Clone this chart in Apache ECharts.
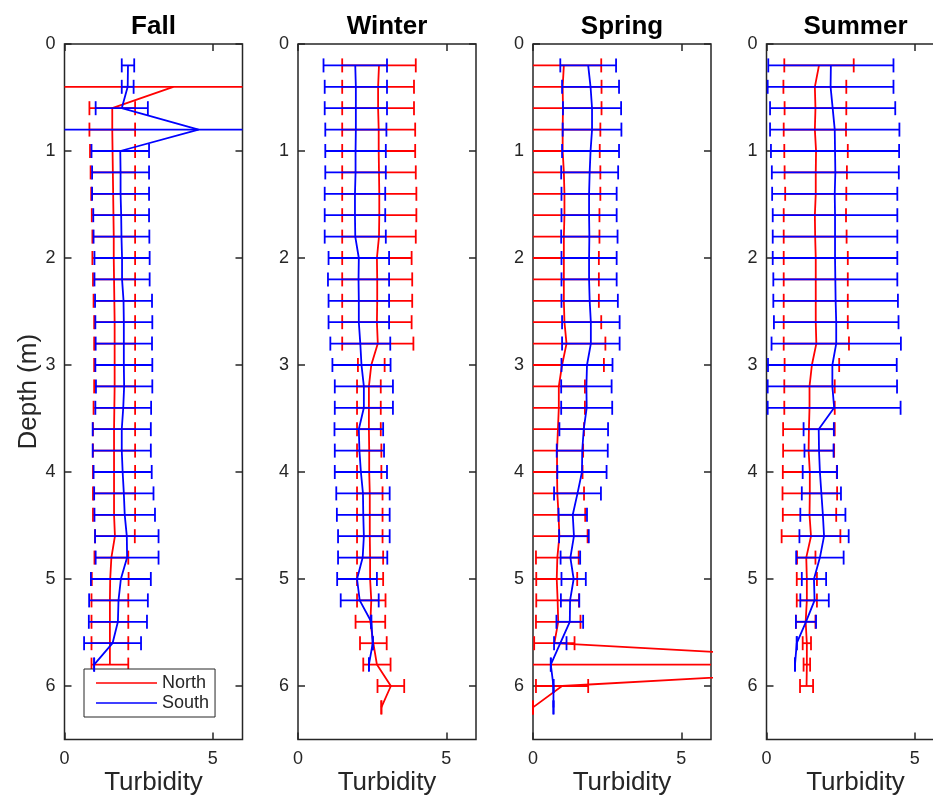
<!DOCTYPE html>
<html><head><meta charset="utf-8">
<script src="https://cdn.jsdelivr.net/npm/echarts@6/dist/echarts.min.js"></script>
<style>html,body{margin:0;padding:0;background:#fff}#c{width:933px;height:797px}</style>
</head><body><div id="c"></div>
<script>
// Depth levels (m)
var depths = [0.2,0.4,0.6,0.8,1.0,1.2,1.4,1.6,1.8,2.0,2.2,2.4,2.6,2.8,3.0,3.2,3.4,3.6,3.8,4.0,4.2,4.4,4.6,4.8,5.0,5.2,5.4,5.6,5.8,6.0,6.2];
var seasonNames = ['Fall','Winter','Spring','Summer'];
var xTickValues = [0,5];
var yTickValues = [0,1,2,3,4,5,6];

// Fall
var fallNorthMean = [null,3.67,1.61,1.61,1.62,1.63,1.64,1.65,1.66,1.66,1.67,1.68,1.69,1.69,1.69,1.69,1.68,1.67,1.67,1.67,1.67,1.67,1.70,1.58,1.54,1.53,1.53,1.53,1.53,null,null];
var fallNorthErr  = [null,9,0.77,0.77,0.76,0.75,0.74,0.73,0.72,0.72,0.71,0.70,0.69,0.69,0.69,0.69,0.70,0.71,0.71,0.71,0.71,0.71,0.67,0.57,0.62,0.62,0.62,0.62,0.62,null,null];
var fallSouthMean = [2.14,2.13,1.93,4.52,1.88,1.89,1.89,1.91,1.92,1.94,1.94,1.99,2.00,2.00,2.00,2.01,1.98,1.93,1.93,1.96,2.00,2.03,2.10,2.11,1.90,1.82,1.80,1.62,1.00,null,null];
var fallSouthErr  = [0.21,0.20,0.88,10,0.97,0.96,0.96,0.94,0.94,0.93,0.93,0.96,0.96,0.95,0.96,0.95,0.94,0.98,0.98,0.98,1.00,1.02,1.07,1.06,1.01,0.99,0.98,0.96,0,null,null];

// Winter
var winterNorthMean = [2.73,2.70,2.70,2.72,2.72,2.73,2.74,2.74,2.73,2.66,2.67,2.67,2.66,2.69,2.47,2.39,2.39,2.39,2.40,2.40,2.42,2.42,2.42,2.43,2.43,2.47,2.44,2.54,2.66,3.13,2.81];
var winterNorthErr  = [1.24,1.21,1.21,1.23,1.23,1.24,1.25,1.25,1.24,1.17,1.18,1.18,1.17,1.20,0.45,0.40,0.40,0.40,0.41,0.41,0.43,0.43,0.43,0.44,0.44,0.48,0.50,0.45,0.46,0.45,0];
var winterSouthMean = [1.93,1.95,1.95,1.95,1.94,1.94,1.92,1.92,1.93,2.05,2.04,2.05,2.05,2.10,2.14,2.22,2.22,2.05,2.07,2.12,2.19,2.20,2.22,2.18,1.99,2.08,2.47,2.52,2.39,null,null];
var winterSouthErr  = [1.07,1.05,1.05,1.03,1.02,1.02,1.02,1.02,1.03,1.02,1.03,1.02,1.02,1.01,0.98,0.98,0.98,0.82,0.83,0.88,0.90,0.89,0.87,0.83,0.67,0.64,0,0,0,null,null];

// Spring
var springNorthMean = [1.04,1.00,1.01,1.00,1.00,1.04,1.06,1.06,1.04,1.04,1.04,1.04,1.06,1.13,0.98,0.87,0.87,0.84,0.81,0.81,0.82,0.86,0.89,0.82,0.80,0.83,0.85,0.72,14,0.98,0];
var springNorthErr  = [1.26,1.31,1.30,1.27,1.25,1.23,1.21,1.18,1.20,1.18,1.18,1.18,1.24,1.31,1.41,0.88,0.88,0.88,0.88,0.86,0.90,0.90,0.95,0.72,0.69,0.72,0.75,0.68,16,0.88,0];
var springSouthMean = [1.86,1.94,1.99,1.99,1.94,1.91,1.89,1.89,1.90,1.89,1.89,1.91,1.95,1.95,1.82,1.80,1.81,1.71,1.66,1.65,1.50,1.34,1.38,1.26,1.37,1.25,1.24,0.92,0.60,0.69,0.69];
var springSouthErr  = [0.94,0.96,0.98,0.99,0.96,0.96,0.93,0.93,0.95,0.93,0.93,0.95,0.97,0.97,0.86,0.85,0.86,0.82,0.86,0.83,0.79,0.48,0.50,0.33,0.41,0.31,0.45,0.21,0,0,0];

// Summer
var summerNorthMean = [1.77,1.63,1.65,1.63,1.67,1.66,1.66,1.63,1.64,1.66,1.66,1.66,1.66,1.68,1.53,1.45,1.45,1.43,1.42,1.46,1.46,1.45,1.50,1.34,1.36,1.36,1.32,1.36,1.36,1.35,null];
var summerNorthErr  = [1.17,1.06,1.04,1.05,1.07,1.05,1.03,1.05,1.06,1.08,1.08,1.08,1.08,1.10,0.92,0.85,0.85,0.87,0.86,0.91,0.92,0.90,0.99,0.31,0.34,0.34,0.33,0.14,0.11,0.22,null];
var summerSouthMean = [2.17,2.16,2.23,2.30,2.31,2.32,2.30,2.31,2.31,2.31,2.32,2.33,2.35,2.35,2.22,2.22,2.28,1.76,1.77,1.80,1.85,1.90,1.94,1.80,1.60,1.62,1.33,1.02,0.96,null,null];
var summerSouthErr  = [2.11,2.12,2.11,2.18,2.16,2.14,2.11,2.10,2.10,2.10,2.09,2.10,2.10,2.18,2.17,2.18,2.24,0.51,0.49,0.58,0.66,0.76,0.83,0.80,0.41,0.48,0.34,0,0,null,null];

var northMeans = [fallNorthMean, winterNorthMean, springNorthMean, summerNorthMean];
var northErrs  = [fallNorthErr, winterNorthErr, springNorthErr, summerNorthErr];
var southMeans = [fallSouthMean, winterSouthMean, springSouthMean, summerSouthMean];
var southErrs  = [fallSouthErr, winterSouthErr, springSouthErr, summerSouthErr];

// ---- layout / style ----
var FONT = '"Liberation Sans", Arial, Helvetica, sans-serif';
var TXT = '#262626';
var RED = '#ff0000', BLUE = '#0000ff';
var LW = 1.8, CAP = 7;
var gridLeft = [64.5, 298, 533, 766.5];
var GRID_TOP = 44, GRID_W = 178, GRID_H = 695.5;

function pairs(means, errs, withErr) {
  var out = [];
  for (var i = 0; i < depths.length; i++) {
    if (means[i] === null) continue;
    out.push(withErr ? [means[i], depths[i], errs[i]] : [means[i], depths[i]]);
  }
  return out;
}

function barRender(color) {
  return function (params, api) {
    var m = api.value(0), d = api.value(1), e = api.value(2);
    var cs = params.coordSys;
    var pl = api.coord([m - e, d]), pr = api.coord([m + e, d]);
    var y = pl[1];
    var x0 = cs.x, x1 = cs.x + cs.width;
    var st = {stroke: color, lineWidth: LW, fill: null};
    var ch = [];
    var a = Math.max(pl[0], x0), b = Math.min(pr[0], x1);
    if (b > a) ch.push({type: 'line', shape: {x1: a, y1: y, x2: b, y2: y}, style: st});
    [pl[0], pr[0]].forEach(function (x) {
      if (x >= x0 - 0.01 && x <= x1 + 0.01)
        ch.push({type: 'line', shape: {x1: x, y1: y - CAP, x2: x, y2: y + CAP}, style: st});
    });
    return {type: 'group', children: ch};
  };
}

var grids = [], xAxes = [], yAxes = [], series = [], titles = [];
for (var i = 0; i < 4; i++) {
  grids.push({left: gridLeft[i], top: GRID_TOP, width: GRID_W, height: GRID_H, show: true,
    borderColor: TXT, borderWidth: 1.5, backgroundColor: 'transparent',
    containLabel: false, outerBoundsMode: 'none'});
  titles.push({text: seasonNames[i], left: gridLeft[i] + GRID_W / 2, top: 14, textAlign: 'center', padding: 0,
    textStyle: {fontSize: 26, fontWeight: 'bold', color: '#000', fontFamily: FONT}});
}
function tick(vals) {
  return {customValues: vals, inside: true, length: 7, lineStyle: {color: TXT, width: 1.5}};
}
var noLine = {show: false, onZero: false};
for (var i = 0; i < 4; i++) {
  xAxes.push({gridIndex: i, type: 'value', min: 0, max: 6, position: 'bottom',
    axisLine: noLine, splitLine: {show: false},
    axisTick: tick(xTickValues),
    axisLabel: {customValues: xTickValues, fontSize: 18, color: TXT, margin: 11, fontFamily: FONT},
    name: 'Turbidity', nameLocation: 'middle', nameGap: 30, nameMoveOverlap: false,
    nameTextStyle: {fontSize: 26, color: TXT, fontFamily: FONT}});
  yAxes.push({gridIndex: i, type: 'value', min: 0, max: 6.5, inverse: true, position: 'left',
    axisLine: noLine, splitLine: {show: false},
    axisTick: tick(yTickValues),
    axisLabel: {customValues: yTickValues, fontSize: 18, color: TXT, margin: 9, fontFamily: FONT},
    name: i === 0 ? 'Depth (m)' : '', nameLocation: 'middle', nameGap: 23, nameRotate: 90,
    nameMoveOverlap: false,
    nameTextStyle: {fontSize: 26, color: TXT, fontFamily: FONT}});
}
for (var i = 0; i < 4; i++) {
  xAxes.push({gridIndex: i, type: 'value', min: 0, max: 6, position: 'top',
    axisLine: noLine, splitLine: {show: false},
    axisTick: tick(xTickValues), axisLabel: {show: false}});
  yAxes.push({gridIndex: i, type: 'value', min: 0, max: 6.5, inverse: true, position: 'right',
    axisLine: noLine, splitLine: {show: false},
    axisTick: tick(yTickValues), axisLabel: {show: false}});
}
for (var i = 0; i < 4; i++) {
  var groups = [
    {name: 'North', color: RED, means: northMeans[i], errs: northErrs[i], z: 2},
    {name: 'South', color: BLUE, means: southMeans[i], errs: southErrs[i], z: 4}
  ];
  groups.forEach(function (g) {
    series.push({type: 'custom', name: g.name + ' error', xAxisIndex: i, yAxisIndex: i,
      data: pairs(g.means, g.errs, true), encode: {x: 0, y: 1},
      renderItem: barRender(g.color), z: g.z, silent: true, animation: false});
    series.push({type: 'line', name: g.name, xAxisIndex: i, yAxisIndex: i,
      data: pairs(g.means, g.errs, false), symbol: 'none', clip: true,
      lineStyle: {color: g.color, width: LW}, itemStyle: {color: g.color},
      z: g.z + 1, silent: true, animation: false});
  });
}

var chart = echarts.init(document.getElementById('c'), null, {renderer: 'canvas'});
chart.setOption({
  backgroundColor: '#fff',
  animation: false,
  title: titles,
  grid: grids,
  xAxis: xAxes,
  yAxis: yAxes,
  legend: {
    data: [{name: 'North', icon: 'rect'}, {name: 'South', icon: 'rect'}],
    orient: 'vertical', left: 84, top: 669, itemWidth: 61, itemHeight: 1.5, itemGap: 2,
    padding: [5, 6, 5, 12], borderColor: TXT, borderWidth: 1, backgroundColor: '#fff',
    selectedMode: false,
    textStyle: {fontSize: 18, color: TXT, fontFamily: FONT, lineHeight: 18}
  },
  series: series
});
</script>
</body></html>
